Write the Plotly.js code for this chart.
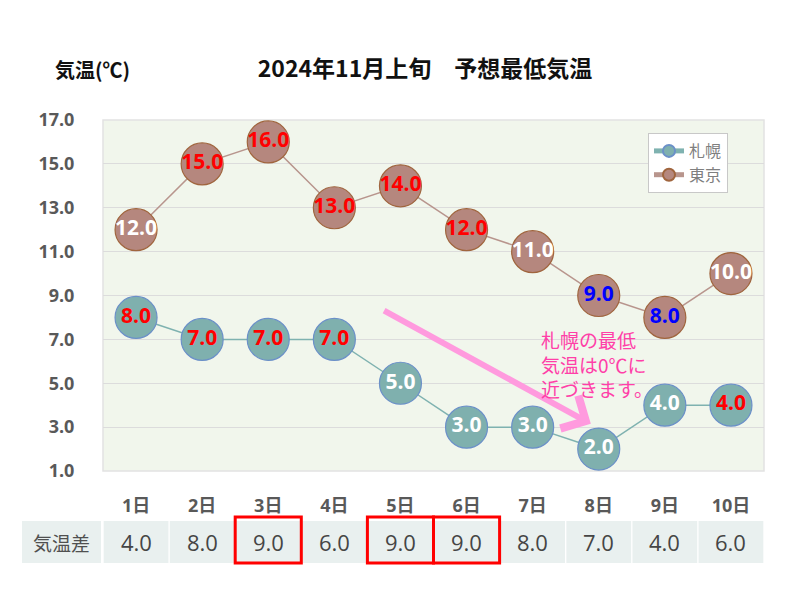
<!DOCTYPE html>
<html>
<head>
<meta charset="utf-8">
<script src="https://cdn.plot.ly/plotly-3.0.1.min.js"></script>
<style>html,body{margin:0;padding:0;background:#fff;}#chart{width:800px;height:600px;}</style>
</head>
<body>
<div id="chart"></div>
<script>
const days = ['1日','2日','3日','4日','5日','6日','7日','8日','9日','10日'];
const sapporo = [8, 7, 7, 7, 5, 3, 3, 2, 4, 4];
const tokyo = [12, 15, 16, 13, 14, 12, 11, 9, 8, 10];
const tempDiff = [4.0, 8.0, 9.0, 6.0, 9.0, 9.0, 8.0, 7.0, 4.0, 6.0];
const sapporoLabelColors = ['red','red','red','red','white','white','white','white','white','red'];
const tokyoLabelColors = ['white','red','red','red','red','red','white','blue','blue','white'];
const highlightDays = ['3日','5日','6日'];
const yTicks = [1, 3, 5, 7, 9, 11, 13, 15, 17];
const rowLabel = '気温差';
const noteText = '札幌の最低<br>気温は0℃に<br>近づきます。';

const NUMFONT = 'Open Sans, Noto Sans CJK JP, sans-serif';
const JPFONT = 'Noto Sans CJK JP, Open Sans, sans-serif';

const traces = [
  {
    x: days, y: sapporo, name: '札幌', type: 'scatter', mode: 'lines+markers+text',
    text: sapporo.map(v => v.toFixed(1)), textposition: 'middle center',
    textfont: {family: NUMFONT, size: 21, color: sapporoLabelColors, weight: 'bold'},
    line: {color: '#7fb2b0', width: 1.5},
    marker: {size: 42, color: '#7fb0ae', line: {color: '#6b90c8', width: 1.2}},
    cliponaxis: false
  },
  {
    x: days, y: tokyo, name: '東京', type: 'scatter', mode: 'lines+markers+text',
    text: tokyo.map(v => v.toFixed(1)), textposition: 'middle center',
    textfont: {family: NUMFONT, size: 21, color: tokyoLabelColors, weight: 'bold'},
    line: {color: '#b8958d', width: 1.5},
    marker: {size: 42, color: '#b5877e', line: {color: '#a0653e', width: 1.2}},
    cliponaxis: false
  }
];

const shapes = [];
const annotations = [];

// table row cells
const cellTop = (471 - 521) / 351, cellBot = (471 - 563) / 351;
shapes.push({type: 'rect', xref: 'paper', yref: 'paper',
  x0: (22 - 103) / 661, x1: (101 - 103) / 661, y0: cellBot, y1: cellTop,
  fillcolor: '#e9f0ef', line: {width: 0}, layer: 'below'});
annotations.push({xref: 'paper', yref: 'paper', x: (61 - 103) / 661, y: (cellTop + cellBot) / 2,
  text: rowLabel, showarrow: false, font: {family: JPFONT, size: 19, color: '#505050'},
  xanchor: 'center', yanchor: 'middle'});
days.forEach((d, i) => {
  shapes.push({type: 'rect', xref: 'x', yref: 'paper', x0: i - 0.49, x1: i + 0.49,
    y0: cellBot, y1: cellTop, fillcolor: '#e9f0ef', line: {width: 0}, layer: 'below'});
  annotations.push({xref: 'x', yref: 'paper', x: d, y: (cellTop + cellBot) / 2,
    text: tempDiff[i].toFixed(1), showarrow: false,
    font: {family: NUMFONT, size: 22, color: '#454545'}, xanchor: 'center', yanchor: 'middle'});
  if (highlightDays.includes(d)) {
    shapes.push({type: 'rect', xref: 'x', yref: 'paper', x0: i - 0.5, x1: i + 0.5,
      y0: (471 - 563) / 351, y1: (471 - 517) / 351, line: {color: '#ff0000', width: 3},
      fillcolor: 'rgba(0,0,0,0)', layer: 'above'});
  }
});

// plot border
shapes.push({type: 'rect', xref: 'paper', yref: 'paper', x0: 0, x1: 1, y0: 0, y1: 1,
  line: {color: '#e2e2e2', width: 1.5}, fillcolor: 'rgba(0,0,0,0)', layer: 'below'});

// y-axis title
annotations.push({xref: 'paper', yref: 'paper', x: (92 - 103) / 661, y: (471 - 69) / 351,
  text: '気温(℃)', showarrow: false, font: {family: JPFONT, size: 20, color: '#111', weight: 'bold'},
  xanchor: 'center', yanchor: 'middle'});

// arrow
annotations.push({xref: 'x', yref: 'y', axref: 'x', ayref: 'y',
  x: 6.88, y: 3.15, ax: 3.73, ay: 8.35, text: '', showarrow: true,
  arrowhead: 4, arrowsize: 1.2, arrowwidth: 6, arrowcolor: '#ff9ade'});
// note text
annotations.push({xref: 'paper', yref: 'paper', x: (539 - 103) / 661, y: (471 - 324) / 351,
  text: noteText, showarrow: false, align: 'left', xanchor: 'left', yanchor: 'top',
  font: {family: JPFONT, size: 19, color: '#ff3fa8'}});

const layout = {
  width: 800, height: 600,
  margin: {l: 103, r: 36, t: 120, b: 129},
  paper_bgcolor: '#ffffff', plot_bgcolor: '#f1f6ec',
  title: {text: '2024年11月上旬　予想最低気温', x: 425 / 800, xanchor: 'center', xref: 'container',
    y: 1 - 69 / 600, yref: 'container', yanchor: 'middle',
    font: {family: JPFONT, size: 23, color: '#111', weight: 'bold'}},
  showlegend: true,
  legend: {x: (648 - 103) / 661, y: (471 - 133) / 351, xanchor: 'left', yanchor: 'top',
    bgcolor: '#ffffff', bordercolor: '#c8c8c8', borderwidth: 1, itemsizing: 'constant',
    font: {family: JPFONT, size: 16, color: '#7f7f7f'}},
  xaxis: {type: 'category', range: [-0.5, 9.5], showgrid: false, zeroline: false,
    ticks: 'outside', ticklen: 18, tickcolor: 'rgba(0,0,0,0)',
    tickfont: {family: NUMFONT, size: 18, color: '#595959', weight: 'bold'}, fixedrange: true},
  yaxis: {range: [1, 17], tickvals: yTicks, ticktext: yTicks.map(v => v.toFixed(1)),
    showgrid: true, gridcolor: '#dcdcdc', gridwidth: 1.2, zeroline: false,
    ticks: 'outside', ticklen: 24, tickcolor: 'rgba(0,0,0,0)',
    tickfont: {family: NUMFONT, size: 18, color: '#595959', weight: 'bold'}, fixedrange: true},
  shapes: shapes,
  annotations: annotations
};

Plotly.newPlot('chart', traces, layout, {displayModeBar: false, staticPlot: true});
</script>
</body>
</html>
